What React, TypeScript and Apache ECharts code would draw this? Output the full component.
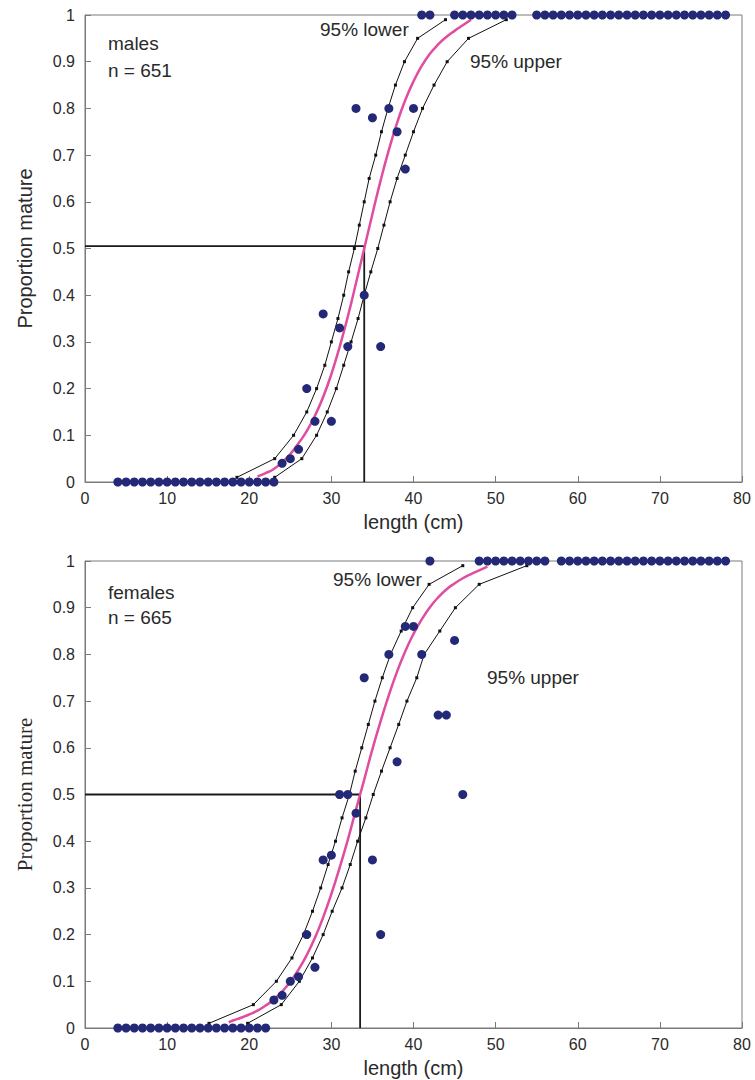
import React, { useEffect, useRef } from "react";
import * as echarts from "echarts";

// probability levels at which the 95% bounds are marked
const pLevels = [0.01, 0.05, 0.1, 0.15, 0.2, 0.25, 0.3, 0.35, 0.4, 0.45, 0.5, 0.55, 0.6, 0.65, 0.7, 0.75, 0.8, 0.85, 0.9, 0.95, 0.99];

// males
const maleLowerX = [18.5, 23.1, 25.4, 27.0, 28.2, 29.2, 30.0, 30.8, 31.5, 32.1, 32.8, 33.4, 34.0, 34.6, 35.4, 36.1, 36.9, 37.8, 38.9, 40.5, 43.9];
const maleUpperX = [23.1, 26.4, 28.2, 29.5, 30.6, 31.5, 32.4, 33.25, 34.0, 34.8, 35.65, 36.4, 37.15, 38.0, 39.0, 40.0, 41.1, 42.5, 44.1, 46.7, 51.3];
const maleFitX = [21, 22, 23, 24, 25, 26, 27, 28, 29, 30, 31, 32, 33, 34, 35, 36, 37, 38, 39, 40, 41, 42, 43, 44, 45, 46, 47];
const maleFitP = [0.012, 0.019, 0.028, 0.042, 0.06, 0.083, 0.109, 0.142, 0.182, 0.231, 0.289, 0.354, 0.426, 0.5, 0.574, 0.646, 0.711, 0.769, 0.818, 0.858, 0.891, 0.917, 0.937, 0.953, 0.966, 0.978, 0.99];
const maleX = [4, 5, 6, 7, 8, 9, 10, 11, 12, 13, 14, 15, 16, 17, 18, 19, 20, 21, 22, 23,
  24, 25, 26, 27, 28, 29, 30, 31, 32, 33, 34, 35, 36, 37, 38, 39, 40, 41, 42,
  45, 46, 47, 48, 49, 50, 51, 52,
  55, 56, 57, 58, 59, 60, 61, 62, 63, 64, 65, 66, 67, 68, 69, 70, 71, 72, 73, 74, 75, 76, 77, 78];
const maleP = [0, 0, 0, 0, 0, 0, 0, 0, 0, 0, 0, 0, 0, 0, 0, 0, 0, 0, 0, 0,
  0.04, 0.05, 0.07, 0.2, 0.13, 0.36, 0.13, 0.33, 0.29, 0.8, 0.4, 0.78, 0.29, 0.8, 0.75, 0.67, 0.8, 1, 1,
  1, 1, 1, 1, 1, 1, 1, 1,
  1, 1, 1, 1, 1, 1, 1, 1, 1, 1, 1, 1, 1, 1, 1, 1, 1, 1, 1, 1, 1, 1, 1, 1];
const maleL50 = 34;
const maleP50 = 0.505;

// females
const femaleLowerX = [15.1, 20.5, 23.3, 25.2, 26.6, 27.7, 28.7, 29.6, 30.5, 31.3, 32.2, 32.9, 33.7, 34.5, 35.3, 36.2, 37.2, 38.5, 39.9, 41.9, 46.0];
const femaleUpperX = [19.8, 23.9, 26.1, 27.7, 29.0, 30.1, 31.3, 32.3, 33.2, 34.2, 35.1, 36.1, 37.15, 38.2, 39.2, 40.4, 41.3, 43.2, 45.1, 48.0, 53.8];
const femaleFitX = [17.5, 18, 19, 20, 21, 22, 23, 24, 25, 26, 27, 28, 29, 30, 31, 32, 33, 34, 35, 36, 37, 38, 39, 40, 41, 42, 43, 44, 45, 46, 47, 48, 49];
const femaleFitP = [0.012, 0.016, 0.022, 0.029, 0.037, 0.048, 0.061, 0.078, 0.099, 0.125, 0.156, 0.193, 0.237, 0.287, 0.343, 0.403, 0.468, 0.532, 0.597, 0.657, 0.713, 0.763, 0.807, 0.844, 0.875, 0.901, 0.922, 0.939, 0.952, 0.963, 0.972, 0.98, 0.988];
const femaleX = [4, 5, 6, 7, 8, 9, 10, 11, 12, 13, 14, 15, 16, 17, 18, 19, 20, 21, 22,
  23, 24, 25, 26, 27, 28, 29, 30, 31, 32, 33, 34, 35, 36, 37, 38, 39, 40, 41, 42, 43, 44, 45, 46,
  48, 49, 50, 51, 52, 53, 54, 55, 56,
  58, 59, 60, 61, 62, 63, 64, 65, 66, 67, 68, 69, 70, 71, 72, 73, 74, 75, 76, 77, 78];
const femaleP = [0, 0, 0, 0, 0, 0, 0, 0, 0, 0, 0, 0, 0, 0, 0, 0, 0, 0, 0,
  0.06, 0.07, 0.1, 0.11, 0.2, 0.13, 0.36, 0.37, 0.5, 0.5, 0.46, 0.75, 0.36, 0.2, 0.8, 0.57, 0.86, 0.86, 0.8, 1, 0.67, 0.67, 0.83, 0.5,
  1, 1, 1, 1, 1, 1, 1, 1, 1,
  1, 1, 1, 1, 1, 1, 1, 1, 1, 1, 1, 1, 1, 1, 1, 1, 1, 1, 1, 1, 1];
const femaleL50 = 33.5;
const femaleP50 = 0.5;

const xTicks = ["0", "10", "20", "30", "40", "50", "60", "70", "80"];
const yTicks = ["0", "0.1", "0.2", "0.3", "0.4", "0.5", "0.6", "0.7", "0.8", "0.9", "1"];

const SANS = "'Liberation Sans', Arial, Helvetica, sans-serif";
const SERIF = "'Liberation Serif', 'Times New Roman', serif";
const DOT = "#232877";
const PINK = "#e04c9f";
const AXIS = "#7a7a7a";
const TXT = "#2a2a2a";

const zip = (xs: number[], ys: number[]) => xs.map((x, i) => [x, ys[i]]);

function panelSeries(gi: number, lowerX: number[], upperX: number[], fitX: number[], fitP: number[], xs: number[], ps: number[], l50: number, p50: number) {
  const common = { xAxisIndex: gi, yAxisIndex: gi };
  return [
    {
      ...common,
      type: "line",
      data: [[0, p50], [l50, p50], [l50, 0]],
      symbol: "none",
      lineStyle: { color: "#1a1a1a", width: 1.8 },
      z: 2,
      silent: true,
    },
    {
      ...common,
      type: "line",
      data: zip(lowerX, pLevels),
      symbol: "rect",
      symbolSize: 3,
      itemStyle: { color: "#111" },
      lineStyle: { color: "#111", width: 1 },
      z: 3,
    },
    {
      ...common,
      type: "line",
      data: zip(upperX, pLevels),
      symbol: "rect",
      symbolSize: 3,
      itemStyle: { color: "#111" },
      lineStyle: { color: "#111", width: 1 },
      z: 3,
    },
    {
      ...common,
      type: "line",
      data: zip(fitX, fitP),
      symbol: "none",
      smooth: true,
      lineStyle: { color: PINK, width: 2.5 },
      z: 4,
    },
    {
      ...common,
      type: "scatter",
      data: zip(xs, ps),
      symbol: "circle",
      symbolSize: 9,
      itemStyle: { color: DOT, opacity: 1 },
      clip: false,
      z: 5,
    },
  ];
}

function xAxisCfg(gi: number) {
  return {
    gridIndex: gi,
    type: "value",
    min: 0,
    max: 80,
    interval: 10,
    name: "length (cm)",
    nameLocation: "middle",
    nameGap: 30,
    nameTextStyle: { fontFamily: SANS, fontSize: 20, color: TXT },
    axisLine: { show: true, onZero: false, lineStyle: { color: AXIS, width: 1 } },
    axisTick: { show: true, inside: true, length: 6, lineStyle: { color: AXIS } },
    axisLabel: {
      margin: 8,
      fontFamily: SANS,
      fontSize: 16,
      color: TXT,
      formatter: (v: number) => xTicks[Math.round(v / 10)] ?? "",
    },
    splitLine: { show: false },
  };
}

function yAxisCfg(gi: number, serifName: boolean) {
  return {
    gridIndex: gi,
    type: "value",
    min: 0,
    max: 1,
    interval: 0.1,
    name: "Proportion mature",
    nameLocation: "middle",
    nameGap: 50,
    nameTextStyle: {
      fontFamily: serifName ? SERIF : SANS,
      fontSize: serifName ? 21 : 20,
      color: TXT,
    },
    axisLine: { show: true, onZero: false, lineStyle: { color: AXIS, width: 1 } },
    axisTick: { show: true, inside: true, length: 6, lineStyle: { color: AXIS } },
    axisLabel: {
      margin: 10,
      fontFamily: SANS,
      fontSize: 16,
      color: TXT,
      formatter: (v: number) => yTicks[Math.round(v * 10)] ?? "",
    },
    splitLine: { show: false },
  };
}

export default function App() {
  const ref = useRef<HTMLDivElement>(null);
  useEffect(() => {
    if (!ref.current) return;
    const chart = echarts.init(ref.current, undefined, { renderer: "svg" });
    const textStyle = (s: string, x: number, y: number) => ({
      type: "text",
      x,
      y,
      style: { text: s, fontFamily: SANS, fontSize: 19, fill: TXT },
      z: 10,
    });
    chart.setOption({
      animation: false,
      backgroundColor: "#ffffff",
      grid: [
        { left: 85, top: 15, width: 657, height: 467, show: true, borderColor: AXIS, borderWidth: 1, backgroundColor: "transparent" },
        { left: 85, top: 561, width: 657, height: 467, show: true, borderColor: AXIS, borderWidth: 1, backgroundColor: "transparent" },
      ],
      xAxis: [xAxisCfg(0), xAxisCfg(1)],
      yAxis: [yAxisCfg(0, false), yAxisCfg(1, true)],
      series: [
        ...panelSeries(0, maleLowerX, maleUpperX, maleFitX, maleFitP, maleX, maleP, maleL50, maleP50),
        ...panelSeries(1, femaleLowerX, femaleUpperX, femaleFitX, femaleFitP, femaleX, femaleP, femaleL50, femaleP50),
      ],
      graphic: [
        textStyle("males", 108, 34),
        textStyle("n = 651", 108, 61),
        textStyle("95% lower", 320, 20),
        textStyle("95% upper", 470, 52),
        textStyle("females", 108, 583),
        textStyle("n = 665", 108, 608),
        textStyle("95% lower", 333, 570),
        textStyle("95% upper", 487, 668),
      ],
    });
    return () => chart.dispose();
  }, []);
  return (
    <div
      ref={ref}
      style={{ position: "absolute", left: 0, top: 0, width: 755, height: 1080, background: "#fff" }}
    />
  );
}
